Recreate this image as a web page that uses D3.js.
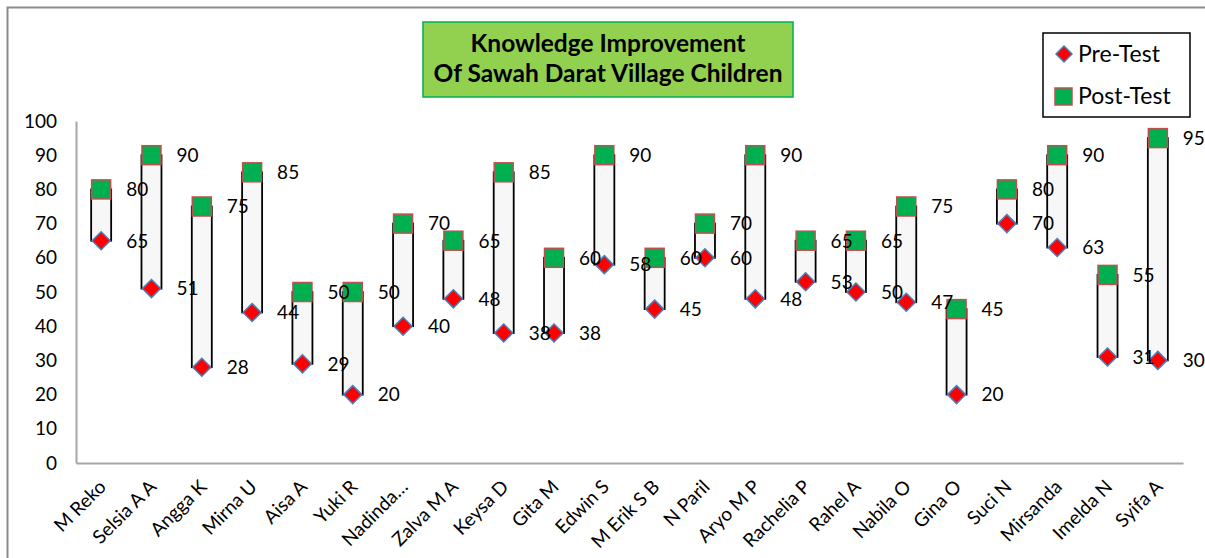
<!DOCTYPE html>
<html>
<head>
<meta charset="utf-8">
<script src="https://cdn.jsdelivr.net/npm/d3@7"></script>
<style>
    body { margin: 0; background: #fff; }
    svg { display: block; font-family: Lato, "Open Sans", sans-serif; }
</style>
</head>
<body>
<svg id="chart" width="1205" height="558"></svg>
<script>
// students
const names = ["M Reko", "Selsia A A", "Angga K", "Mirna U", "Aisa A", "Yuki R", "Nadinda…", "Zalva M A",
    "Keysa D", "Gita M", "Edwin S", "M Erik S B", "N Paril", "Aryo M P", "Rachelia P", "Rahel A",
    "Nabila O", "Gina O", "Suci N", "Mirsanda", "Imelda N", "Syifa A"];
const preTest  = [65, 51, 28, 44, 29, 20, 40, 48, 38, 38, 58, 45, 60, 48, 53, 50, 47, 20, 70, 63, 31, 30];
const postTest = [80, 90, 75, 85, 50, 50, 70, 65, 85, 60, 90, 60, 70, 90, 65, 65, 75, 45, 80, 90, 55, 95];
const yTicks = [0, 10, 20, 30, 40, 50, 60, 70, 80, 90, 100];

const data = names.map((n, i) => ({name: n, pre: preTest[i], post: postTest[i]}));

const svg = d3.select("#chart");

// chart border (right/bottom run off the picture)
svg.append("rect")
    .attr("x", 7.5).attr("y", 7.5)
    .attr("width", 1220).attr("height", 570)
    .attr("fill", "none").attr("stroke", "#8c8c8c").attr("stroke-width", 2);

const x = d3.scaleBand().domain(names).range([76, 1183]);
const y = d3.scaleLinear().domain([0, 100]).range([463, 121]);
const cx = d => x(d) + x.bandwidth() / 2;

// y axis
const yAxis = svg.append("g")
    .attr("transform", "translate(76,0)")
    .call(d3.axisLeft(y).tickValues(yTicks).tickSize(0).tickPadding(19));
yAxis.select(".domain").attr("stroke", "#a6a6a6").attr("stroke-width", 2);
yAxis.selectAll("text").attr("font-size", 19).attr("font-family", "Lato").attr("fill", "#000");

// x axis
const xAxis = svg.append("g")
    .attr("transform", "translate(0,463)")
    .call(d3.axisBottom(x).tickSize(0).tickFormat(""));
xAxis.select(".domain").attr("stroke", "#a6a6a6").attr("stroke-width", 2);

svg.append("g").selectAll("text")
    .data(names)
    .join("text")
    .attr("transform", d => `translate(${cx(d) + 6},488) rotate(-45)`)
    .attr("text-anchor", "end")
    .attr("font-size", 19)
    .attr("fill", "#000")
    .text(d => d);

// up bars (pre -> post)
const bw = 20;
svg.append("g").selectAll("rect")
    .data(data)
    .join("rect")
    .attr("x", d => cx(d.name) - bw / 2)
    .attr("y", d => y(d.post))
    .attr("width", bw)
    .attr("height", d => y(d.pre) - y(d.post))
    .attr("fill", "#f7f7f7")
    .attr("stroke", "#000")
    .attr("stroke-width", 1.8);

// pre-test diamonds
svg.append("g").selectAll("path")
    .data(data)
    .join("path")
    .attr("transform", d => `translate(${cx(d.name)},${y(d.pre)})`)
    .attr("d", "M0,-9L9,0L0,9L-9,0Z")
    .attr("fill", "#ff0000")
    .attr("stroke", "#4a7ebb")
    .attr("stroke-width", 1.5);

// post-test squares
svg.append("g").selectAll("rect")
    .data(data)
    .join("rect")
    .attr("x", d => cx(d.name) - 9.5)
    .attr("y", d => y(d.post) - 9.5)
    .attr("width", 19).attr("height", 19)
    .attr("fill", "#00b050")
    .attr("stroke", "#c0504d")
    .attr("stroke-width", 1.5);

// data labels
const labels = svg.append("g").attr("font-size", 19).attr("fill", "#000");
["pre", "post"].forEach(k => {
    labels.append("g").selectAll("text")
        .data(data)
        .join("text")
        .attr("x", d => cx(d.name) + 25)
        .attr("y", d => y(d[k]))
        .attr("dy", "0.36em")
        .text(d => d[k]);
});

// title box
const title = svg.append("g");
title.append("rect")
    .attr("x", 423).attr("y", 22).attr("width", 370).attr("height", 75)
    .attr("fill", "#92d050").attr("stroke", "#00b050").attr("stroke-width", 1.5);
title.selectAll("text")
    .data(["Knowledge Improvement", "Of Sawah Darat Village Children"])
    .join("text")
    .attr("x", 608)
    .attr("y", (d, i) => 52 + i * 30)
    .attr("text-anchor", "middle")
    .attr("font-size", 24.5)
    .attr("font-weight", "bold")
    .attr("fill", "#000")
    .text(d => d);

// legend
const legend = svg.append("g");
legend.append("rect")
    .attr("x", 1043).attr("y", 33).attr("width", 147).attr("height", 84)
    .attr("fill", "#fff").attr("stroke", "#000").attr("stroke-width", 1.5);
legend.append("path")
    .attr("transform", "translate(1064,54)")
    .attr("d", "M0,-8L8,0L0,8L-8,0Z")
    .attr("fill", "#ff0000").attr("stroke", "#4a7ebb").attr("stroke-width", 1.5);
legend.append("rect")
    .attr("x", 1055).attr("y", 88).attr("width", 17).attr("height", 17)
    .attr("fill", "#00b050").attr("stroke", "#c0504d").attr("stroke-width", 1.5);
legend.selectAll("text.lg")
    .data(["Pre-Test", "Post-Test"])
    .join("text")
    .attr("x", 1078)
    .attr("y", (d, i) => 54 + i * 42)
    .attr("dy", "0.36em")
    .attr("font-size", 23)
    .attr("fill", "#000")
    .text(d => d);
</script>
</body>
</html>
